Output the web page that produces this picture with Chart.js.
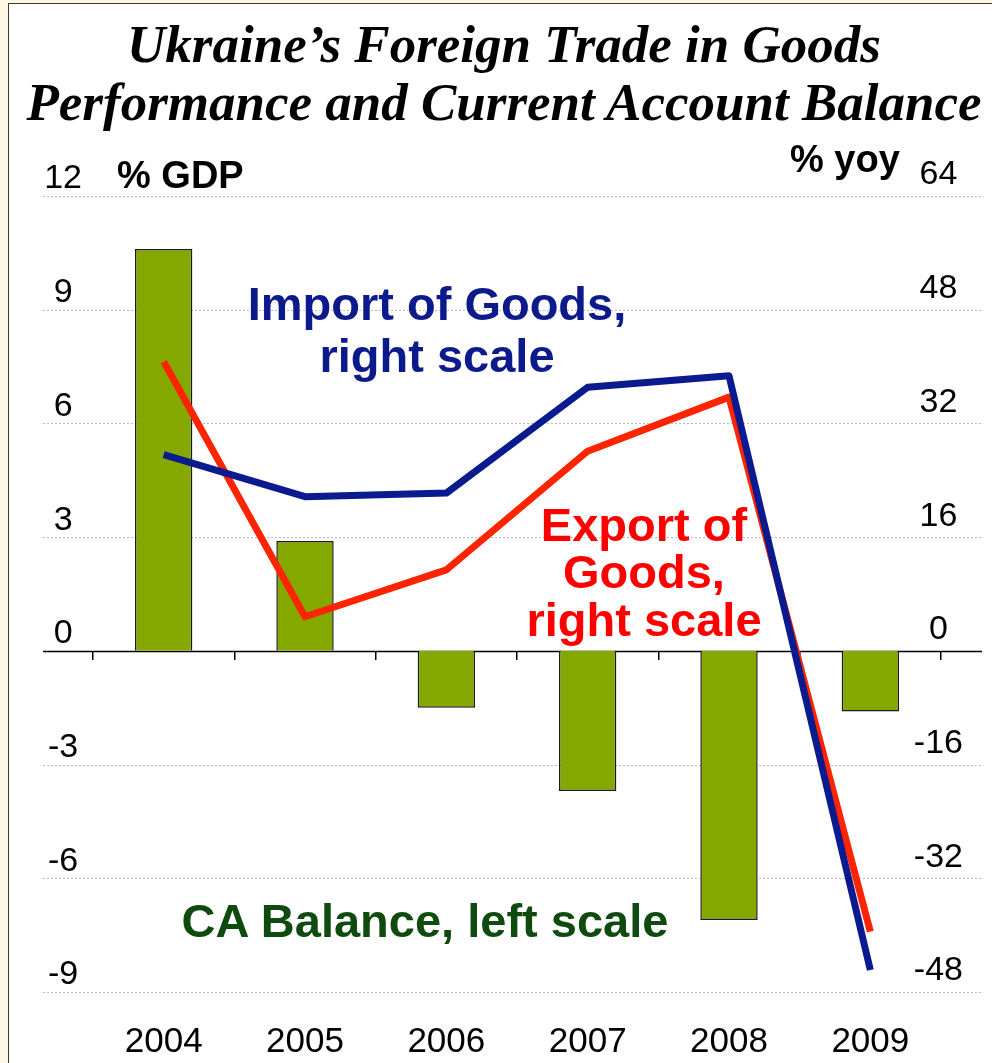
<!DOCTYPE html>
<html>
<head>
<meta charset="utf-8">
<script src="https://cdn.jsdelivr.net/npm/chart.js@4.4.0/dist/chart.umd.min.js"></script>
<style>
html,body{margin:0;padding:0;}
body{width:992px;height:1063px;overflow:hidden;background:#FDF6E3;position:relative;font-family:"Liberation Sans",Arial,sans-serif;}
#panel{position:absolute;left:8px;top:3px;width:1000px;height:1100px;background:#fff;border:1px solid #3a3a3a;box-sizing:border-box;}
#chart{position:absolute;left:0;top:0;}
.t{position:absolute;white-space:nowrap;font-weight:bold;line-height:1;text-align:center;}
#title{position:absolute;left:0;top:15px;width:1008px;text-align:center;font-family:"Liberation Serif","Times New Roman",serif;font-weight:bold;font-style:italic;font-size:53px;line-height:58px;color:#000;white-space:nowrap;}
</style>
</head>
<body>
<div id="panel"></div>
<canvas id="chart" width="992" height="1063" style="width:992px;height:1063px"></canvas>
<div id="title">Ukraine’s Foreign Trade in Goods<br>Performance and Current Account Balance</div>
<div class="t" style="left:117px;top:156px;font-size:38px;color:#000;text-align:left;">% GDP</div>
<div class="t" style="left:790px;top:140px;font-size:38px;color:#000;text-align:left;">% yoy</div>
<div class="t" style="left:137px;top:280px;width:600px;font-size:47px;color:#0D1A8C;">Import of Goods,</div>
<div class="t" style="left:137px;top:332px;width:600px;font-size:47px;color:#0D1A8C;">right scale</div>
<div class="t" style="left:344px;top:501px;width:600px;font-size:47px;color:#FF0000;">Export of</div>
<div class="t" style="left:344px;top:548px;width:600px;font-size:47px;color:#FF0000;">Goods,</div>
<div class="t" style="left:344px;top:596px;width:600px;font-size:47px;color:#FF0000;">right scale</div>
<div class="t" style="left:125px;top:897px;width:600px;font-size:47px;color:#0F4A0F;">CA Balance, left scale</div>
<script>
// ---- data ----
const years = ['2004', '2005', '2006', '2007', '2008', '2009'];
const caBalance = [10.6, 2.9, -1.5, -3.7, -7.1, -1.6];       // % GDP, left scale
const importGrowth = [27.6, 21.7, 22.2, 37.1, 38.7, -44.9];  // % yoy, right scale
const exportGrowth = [40.7, 4.8, 11.4, 28.1, 35.7, -39.5];   // % yoy, right scale
const leftTicks = [-9, -6, -3, 0, 3, 6, 9, 12];
const rightTicks = [-48, -32, -16, 0, 16, 32, 48, 64];

const tickFont = { family: 'Liberation Sans', size: 34 };

const extGrid = {
  id: 'extGrid',
  beforeDatasetsDraw(chart) {
    const { ctx, chartArea, scales } = chart;
    const y = scales.y;
    const x0 = chartArea.left - 50, x1 = chartArea.right + 41;
    ctx.save();
    y.ticks.forEach(t => {
      const py = Math.round(y.getPixelForValue(t.value)) + 0.5;
      ctx.beginPath();
      if (t.value === 0) {
        ctx.setLineDash([]); ctx.strokeStyle = '#000'; ctx.lineWidth = 1.5;
      } else {
        ctx.setLineDash([2, 2]); ctx.strokeStyle = '#b8b8b8'; ctx.lineWidth = 1;
      }
      ctx.moveTo(x0, py); ctx.lineTo(x1, py); ctx.stroke();
    });
    ctx.restore();
  }
};

new Chart(document.getElementById('chart'), {
  type: 'bar',
  data: {
    labels: years,
    datasets: [
      { type: 'line', label: 'Import of Goods', data: importGrowth, yAxisID: 'y1',
        borderColor: '#0A1A8F', borderWidth: 7, pointRadius: 0, tension: 0, fill: false,
        borderJoinStyle: 'round', borderCapStyle: 'butt', order: 0 },
      { type: 'line', label: 'Export of Goods', data: exportGrowth, yAxisID: 'y1',
        borderColor: '#FF2400', borderWidth: 7, pointRadius: 0, tension: 0, fill: false,
        borderJoinStyle: 'round', borderCapStyle: 'butt', order: 1 },
      { type: 'bar', label: 'CA Balance', data: caBalance, yAxisID: 'y',
        backgroundColor: '#84A800', borderColor: '#1a1a1a', borderWidth: 1.5,
        barPercentage: 0.406, categoryPercentage: 1, order: 2 }
    ]
  },
  options: {
    responsive: false,
    devicePixelRatio: 1,
    animation: false,
    layout: { padding: { left: 8, right: 10, top: 196, bottom: 0 } },
    plugins: { legend: { display: false }, tooltip: { enabled: false }, title: { display: false } },
    scales: {
      x: {
        type: 'category', position: 'bottom', offset: true,
        grid: { display: false, drawTicks: false }, border: { display: false },
        ticks: { font: { family: 'Liberation Sans', size: 35 }, color: '#000', padding: 29, maxRotation: 0, autoSkip: false },
        afterFit: s => { s.height = 71; }
      },
      xt: {
        type: 'category', labels: years, position: { y: 0 }, offset: true,
        grid: { offset: true, drawOnChartArea: false, drawTicks: true, tickLength: 9, color: '#000', lineWidth: 1.5 },
        border: { display: false },
        ticks: { display: false }
      },
      y: {
        position: 'left',
        min: leftTicks[0], max: leftTicks[leftTicks.length - 1],
        grid: { display: false, drawTicks: false }, border: { display: false },
        ticks: { stepSize: leftTicks[1] - leftTicks[0], font: tickFont, color: '#000',
                 crossAlign: 'center', padding: 11, labelOffset: -17 },
        afterFit: s => { s.width = 85; }
      },
      y1: {
        position: 'right',
        min: rightTicks[0], max: rightTicks[rightTicks.length - 1],
        grid: { display: false, drawTicks: false }, border: { display: false },
        ticks: { stepSize: rightTicks[1] - rightTicks[0], font: tickFont, color: '#000',
                 mirror: true, crossAlign: 'center', padding: 22, labelOffset: -21 },
        afterFit: s => { s.width = 41; }
      }
    }
  },
  plugins: [extGrid]
});
</script>
</body>
</html>
